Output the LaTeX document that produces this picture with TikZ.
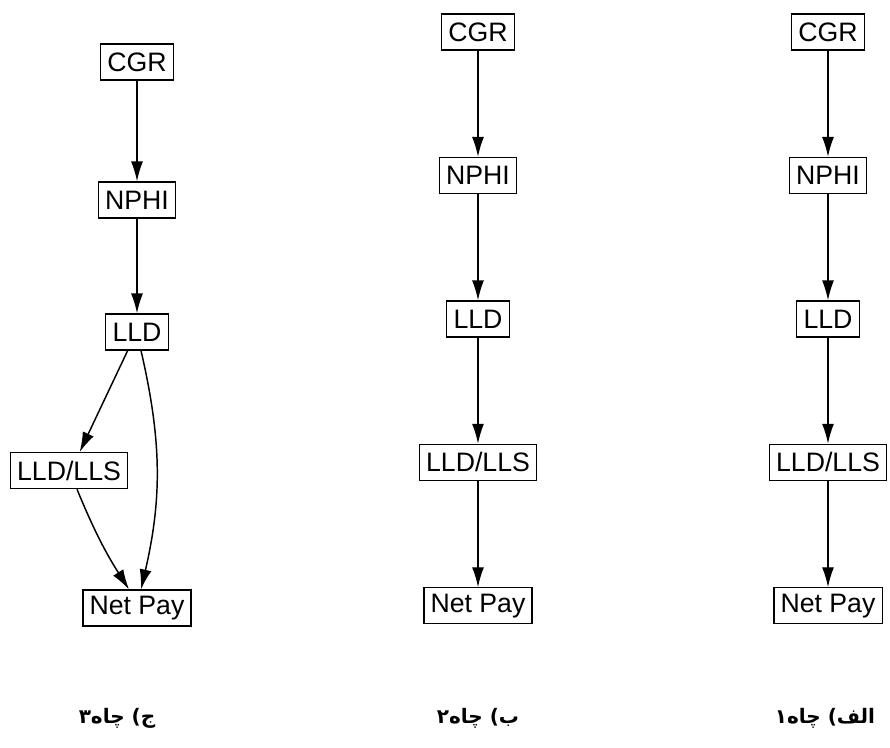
\documentclass[tikz,border=0pt]{standalone}
\usepackage{fontspec}
\setmainfont{Liberation Sans}
\newfontfamily\farsifont[Script=Arabic]{DejaVu Sans}
\TeXXeTstate=1
\usetikzlibrary{arrows.meta,positioning}

\begin{document}
\begin{tikzpicture}[x=0.75pt,y=-0.75pt,on grid,node distance=107.6pt,
    log/.style={draw,line width=0.9pt,inner xsep=5pt,inner ysep=0pt,
      minimum height=27pt,font=\fontsize{20}{20}\selectfont},
    link/.style={-{Latex[length=15pt,width=9pt]},line width=1.1pt},
    well/.style={font=\farsifont\bfseries\fontsize{15}{15}\selectfont}]
   \useasboundingbox (0,0) rectangle (890,748);
   % well 3
   \node[log] (cgr3) at (137,62) {CGR};
   \node[log] (nphi3) [below=103.5pt of cgr3] {NPHI};
   \node[log] (lld3) [below=99pt of nphi3] {LLD};
   \node[log] (lls3) [below left=104pt and 51pt of lld3] {LLD/LLS};
   \node[log] (net3) [below right=103pt and 51pt of lls3] {Net Pay};
   % well 2
   \node[log] (cgr2) at (478,32) {CGR};
   \node[log] (nphi2) [below=of cgr2] {NPHI};
   \node[log] (lld2) [below=of nphi2] {LLD};
   \node[log] (lls2) [below=of lld2] {LLD/LLS};
   \node[log] (net2) [below=of lls2] {Net Pay};
   % well 1
   \node[log] (cgr1) at (828,32) {CGR};
   \node[log] (nphi1) [below=of cgr1] {NPHI};
   \node[log] (lld1) [below=of nphi1] {LLD};
   \node[log] (lls1) [below=of lld1] {LLD/LLS};
   \node[log] (net1) [below=of lls1] {Net Pay};
   \foreach \w in {1,2,3} {
     \draw[link] (cgr\w) -- (nphi\w);
     \draw[link] (nphi\w) -- (lld\w);
   }
   \foreach \w in {1,2} {
     \draw[link] (lld\w) -- (lls\w);
     \draw[link] (lls\w) -- (net\w);
   }
   \draw[link] ([xshift=-7pt]lld3.south) -- ([xshift=8pt]lls3.north);
   \draw[link] ([xshift=3pt]lld3.south) to[bend left=13] ([xshift=3pt]net3.north);
   \draw[link] ([xshift=6pt]lls3.south) to[bend right=5] ([xshift=-6pt]net3.north);
   % captions
   \node[well] (cap3) at (117,718) {\beginR ج) چاه۳\endR};
   \node[well] (cap2) at (478,718) {\beginR ب) چاه۲\endR};
   \node[well] (cap1) at (825,718) {\beginR الف) چاه۱\endR};
\end{tikzpicture}
\end{document}
